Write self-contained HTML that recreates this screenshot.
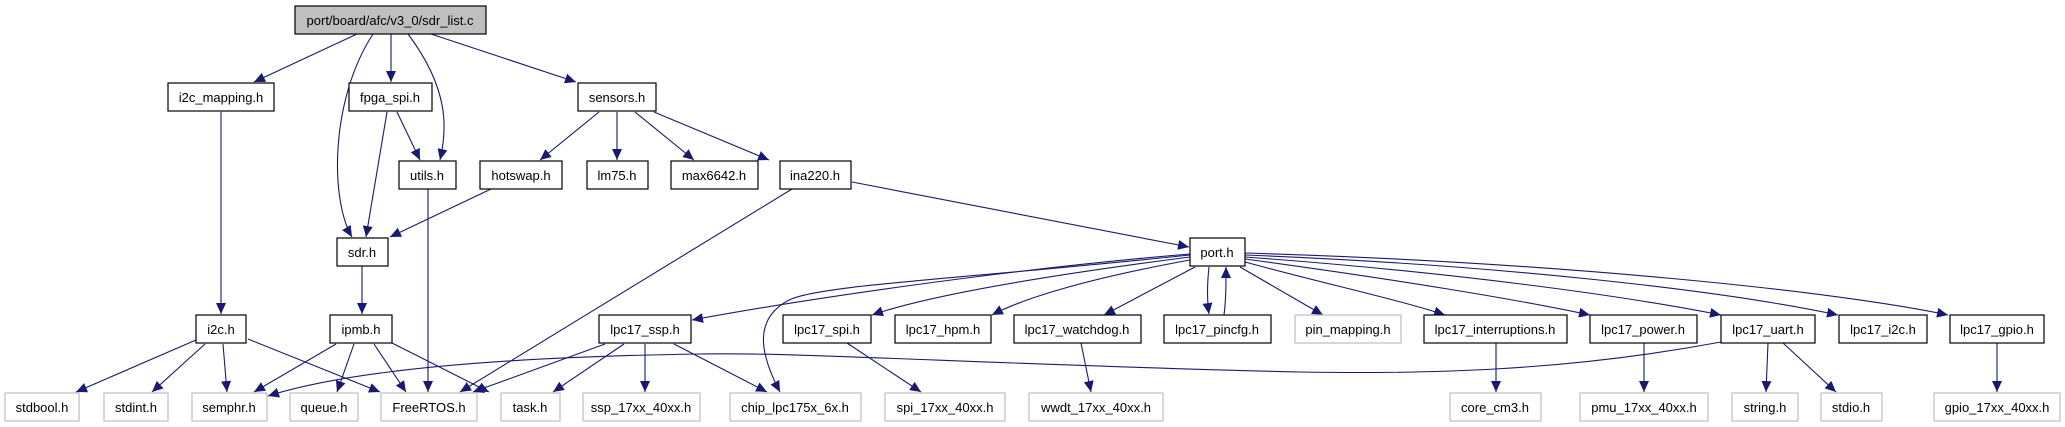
<!DOCTYPE html>
<html><head><meta charset="utf-8"><style>
html,body{margin:0;padding:0;background:#fff;}
svg{display:block;}
text{font-family:"Liberation Sans",Helvetica,Arial,sans-serif;font-size:13px;text-anchor:middle;fill:#000;}
.n{fill:#fff;stroke:#000;stroke-width:1.2;}
.g{fill:#fff;stroke:#bfbfbf;stroke-width:1.2;}
.e{fill:none;stroke:#191970;stroke-width:1.1;}
</style></head><body>
<svg width="2065" height="427" viewBox="0 0 2065 427" xmlns="http://www.w3.org/2000/svg">
<defs><marker id="a" markerUnits="userSpaceOnUse" markerWidth="12" markerHeight="10" refX="11" refY="5" orient="auto"><path d="M0,0 L11,5 L0,10 z" fill="#191970"/></marker></defs>
<g class="e" marker-end="url(#a)">
<path d="M357,34 L254,82"/>
<path d="M373,34 C330,100 330,200 352,237"/>
<path d="M391,34 L391,82"/>
<path d="M408,34 C450,90 447,130 440,160"/>
<path d="M431,34 L576,82"/>
<path d="M221,112 L221,314"/>
<path d="M387,112 L366,237"/>
<path d="M397,112 L420,160"/>
<path d="M599,112 L540,160"/>
<path d="M617,112 L617,160"/>
<path d="M635,112 L694,160"/>
<path d="M654,112 L769,160"/>
<path d="M491,189 L390,237"/>
<path d="M428,189 L428,392"/>
<path d="M362,266 L362,314"/>
<path d="M792,189 L460,392"/>
<path d="M852,182 L1189,247"/>
<path d="M196,340 L76,392"/>
<path d="M205,344 L152,392"/>
<path d="M223,344 L227,392"/>
<path d="M248,339 L380,392"/>
<path d="M336,344 L254,392"/>
<path d="M354,344 L337,392"/>
<path d="M374,344 L406,392"/>
<path d="M392,343 L489,392"/>
<path d="M605,344 L473,392"/>
<path d="M624,344 L553,392"/>
<path d="M645,344 L645,392"/>
<path d="M674,344 L767,392"/>
<path d="M1721,342 C1560,372 1420,374 1300,372 C1000,365 800,352 700,354 C500,357 350,370 268,396"/>
<path d="M1190,254 C1000,270 800,300 692,320"/>
<path d="M1190,257 C1050,275 930,295 872,315"/>
<path d="M1190,260 C1080,280 1020,300 992,315"/>
<path d="M1195,267 L1104,315"/>
<path d="M1209,267 C1207,285 1207,300 1209,314"/>
<path d="M1224,315 C1226,300 1226,285 1226,267"/>
<path d="M1190,255 C950,280 820,285 789,300 C755,318 758,350 780,392"/>
<path d="M1240,267 L1323,315"/>
<path d="M1245,262 C1330,285 1400,300 1445,315"/>
<path d="M1245,259 C1400,280 1520,300 1590,315"/>
<path d="M1245,257 C1450,272 1620,295 1721,315"/>
<path d="M1245,255 C1500,265 1720,290 1838,315"/>
<path d="M1245,253 C1550,262 1830,290 1948,315"/>
<path d="M847,343 L921,392"/>
<path d="M1081,343 L1091,392"/>
<path d="M1496,343 L1496,392"/>
<path d="M1644,343 L1644,392"/>
<path d="M1768,343 L1766,392"/>
<path d="M1783,343 L1836,392"/>
<path d="M1997,343 L1997,392"/>
</g>
<rect x="295" y="6" width="191" height="28" fill="#bfbfbf" stroke="#000" stroke-width="1.2"/><text x="390" y="25">port/board/afc/v3_0/sdr_list.c</text>
<rect class="n" x="168" y="83" width="106" height="28"/><text x="221" y="102">i2c_mapping.h</text>
<rect class="n" x="349" y="83" width="83" height="28"/><text x="390" y="102">fpga_spi.h</text>
<rect class="n" x="578" y="83" width="78" height="28"/><text x="617" y="102">sensors.h</text>
<rect class="n" x="399" y="161" width="57" height="28"/><text x="427" y="180">utils.h</text>
<rect class="n" x="480" y="161" width="82" height="28"/><text x="521" y="180">hotswap.h</text>
<rect class="n" x="587" y="161" width="61" height="28"/><text x="617" y="180">lm75.h</text>
<rect class="n" x="671" y="161" width="87" height="28"/><text x="714" y="180">max6642.h</text>
<rect class="n" x="780" y="161" width="71" height="28"/><text x="815" y="180">ina220.h</text>
<rect class="n" x="337" y="238" width="51" height="28"/><text x="362" y="257">sdr.h</text>
<rect class="n" x="1190" y="238" width="55" height="28"/><text x="1217" y="257">port.h</text>
<rect class="n" x="196" y="315" width="50" height="28"/><text x="221" y="334">i2c.h</text>
<rect class="n" x="330" y="315" width="62" height="28"/><text x="361" y="334">ipmb.h</text>
<rect class="n" x="599" y="315" width="92" height="28"/><text x="645" y="334">lpc17_ssp.h</text>
<rect class="n" x="783" y="315" width="88" height="28"/><text x="827" y="334">lpc17_spi.h</text>
<rect class="n" x="895" y="315" width="96" height="28"/><text x="943" y="334">lpc17_hpm.h</text>
<rect class="n" x="1014" y="315" width="127" height="28"/><text x="1077" y="334">lpc17_watchdog.h</text>
<rect class="n" x="1164" y="315" width="107" height="28"/><text x="1217" y="334">lpc17_pincfg.h</text>
<rect class="g" x="1295" y="315" width="106" height="28"/><text x="1348" y="334">pin_mapping.h</text>
<rect class="n" x="1424" y="315" width="143" height="28"/><text x="1495" y="334">lpc17_interruptions.h</text>
<rect class="n" x="1590" y="315" width="107" height="28"/><text x="1643" y="334">lpc17_power.h</text>
<rect class="n" x="1721" y="315" width="94" height="28"/><text x="1768" y="334">lpc17_uart.h</text>
<rect class="n" x="1839" y="315" width="88" height="28"/><text x="1883" y="334">lpc17_i2c.h</text>
<rect class="n" x="1950" y="315" width="94" height="28"/><text x="1997" y="334">lpc17_gpio.h</text>
<rect class="g" x="5" y="393" width="74" height="28"/><text x="42" y="412">stdbool.h</text>
<rect class="g" x="104" y="393" width="64" height="28"/><text x="136" y="412">stdint.h</text>
<rect class="g" x="192" y="393" width="75" height="28"/><text x="229" y="412">semphr.h</text>
<rect class="g" x="290" y="393" width="68" height="28"/><text x="324" y="412">queue.h</text>
<rect class="g" x="381" y="393" width="96" height="28"/><text x="429" y="412">FreeRTOS.h</text>
<rect class="g" x="501" y="393" width="59" height="28"/><text x="530" y="412">task.h</text>
<rect class="g" x="583" y="393" width="117" height="28"/><text x="641" y="412">ssp_17xx_40xx.h</text>
<rect class="g" x="730" y="393" width="131" height="28"/><text x="795" y="412">chip_lpc175x_6x.h</text>
<rect class="g" x="885" y="393" width="120" height="28"/><text x="945" y="412">spi_17xx_40xx.h</text>
<rect class="g" x="1029" y="393" width="134" height="28"/><text x="1096" y="412">wwdt_17xx_40xx.h</text>
<rect class="g" x="1450" y="393" width="91" height="28"/><text x="1495" y="412">core_cm3.h</text>
<rect class="g" x="1580" y="393" width="128" height="28"/><text x="1644" y="412">pmu_17xx_40xx.h</text>
<rect class="g" x="1732" y="393" width="66" height="28"/><text x="1765" y="412">string.h</text>
<rect class="g" x="1821" y="393" width="61" height="28"/><text x="1851" y="412">stdio.h</text>
<rect class="g" x="1934" y="393" width="126" height="28"/><text x="1997" y="412">gpio_17xx_40xx.h</text>
</svg>
</body></html>
